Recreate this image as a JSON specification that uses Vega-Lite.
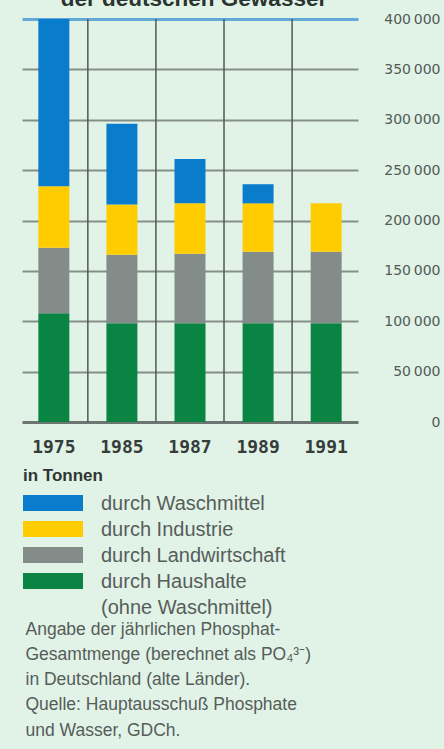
{
  "$schema": "https://vega.github.io/schema/vega-lite/v6.json",
  "width": 336,
  "height": 403,
  "autosize": {"type": "none"},
  "padding": {"left": 22, "top": 19, "right": 86, "bottom": 327},
  "background": "#e1f2e7",
  "title": {
    "text": "der deutschen Gewässer",
    "anchor": "middle",
    "baseline": "alphabetic",
    "offset": 4,
    "dx": 4,
    "dy": 20,
    "fontSize": 22.5,
    "font": "Liberation Sans",
    "fontWeight": "bold",
    "color": "#2b3430"
  },
  "datasets": {
    "stapel": [
      {"category": "durch Haushalte", "reihenfolge": 1},
      {"category": "durch Landwirtschaft", "reihenfolge": 2},
      {"category": "durch Industrie", "reihenfolge": 3},
      {"category": "durch Waschmittel", "reihenfolge": 4}
    ]
  },
  "data": {
    "values": [
      {"year": "1975", "category": "durch Haushalte", "value": 108000},
      {"year": "1975", "category": "durch Landwirtschaft", "value": 65000},
      {"year": "1975", "category": "durch Industrie", "value": 61000},
      {"year": "1975", "category": "durch Waschmittel", "value": 166000},
      {"year": "1985", "category": "durch Haushalte", "value": 98000},
      {"year": "1985", "category": "durch Landwirtschaft", "value": 68000},
      {"year": "1985", "category": "durch Industrie", "value": 50000},
      {"year": "1985", "category": "durch Waschmittel", "value": 80000},
      {"year": "1987", "category": "durch Haushalte", "value": 98000},
      {"year": "1987", "category": "durch Landwirtschaft", "value": 69000},
      {"year": "1987", "category": "durch Industrie", "value": 50000},
      {"year": "1987", "category": "durch Waschmittel", "value": 44000},
      {"year": "1989", "category": "durch Haushalte", "value": 98000},
      {"year": "1989", "category": "durch Landwirtschaft", "value": 71000},
      {"year": "1989", "category": "durch Industrie", "value": 48000},
      {"year": "1989", "category": "durch Waschmittel", "value": 19000},
      {"year": "1991", "category": "durch Haushalte", "value": 98000},
      {"year": "1991", "category": "durch Landwirtschaft", "value": 71000},
      {"year": "1991", "category": "durch Industrie", "value": 48000},
      {"year": "1991", "category": "durch Waschmittel", "value": 0}
    ]
  },
  "layer": [
    {
      "transform": [
        {"lookup": "category", "from": {"data": {"name": "stapel"}, "key": "category", "fields": ["reihenfolge"]}}
      ],
      "mark": {"type": "bar"},
      "encoding": {
        "x": {
          "field": "year",
          "type": "ordinal",
          "scale": {"paddingInner": 0.545, "paddingOuter": 0.24},
          "axis": {
            "title": [
              "Angabe der jährlichen Phosphat-",
              "Gesamtmenge (berechnet als PO₄³⁻)",
              "in Deutschland (alte Länder).",
              "Quelle: Hauptausschuß Phosphate",
              "und Wasser, GDCh."
            ],
            "labelAngle": 0,
            "domain": false,
            "ticks": false,
            "grid": false,
            "bandPosition": 0.5,
            "labelFont": "DejaVu Sans Mono",
            "labelFontWeight": "bold",
            "labelFontSize": 18,
            "labelColor": "#353d39",
            "labelBaseline": "middle",
            "labelPadding": 25,
            "titleAnchor": "start",
            "titleAlign": "left",
            "titleX": 3,
            "titleY": 212,
            "titleBaseline": "alphabetic",
            "titleFont": "Liberation Sans",
            "titleFontSize": 17.5,
            "titleFontWeight": "normal",
            "titleColor": "#555d59",
            "titleLineHeight": 25.3
          }
        },
        "y": {
          "field": "value",
          "type": "quantitative",
          "stack": "zero",
          "scale": {"domain": [0, 400000], "nice": false},
          "axis": {
            "orient": "right",
            "title": null,
            "values": [0, 50000, 100000, 150000, 200000, 250000, 300000, 350000, 400000],
            "domain": false,
            "ticks": false,
            "labelPadding": 82,
            "labelAlign": "right",
            "labelBaseline": "middle",
            "labelFont": "DejaVu Sans",
            "labelFontSize": 14,
            "labelColor": "#525b56",
            "labelExpr": "datum.value == 0 ? '0' : replace(format(datum.value, ','), ',', '\u2009')",
            "grid": true,
            "gridColor": {
              "condition": [
                {"test": "datum.value == 400000", "value": "#63a9d8"},
                {"test": "datum.value == 0", "value": "#6c7571"}
              ],
              "value": "#858f8a"
            },
            "gridWidth": {
              "condition": [
                {"test": "datum.value == 400000", "value": 3},
                {"test": "datum.value == 0", "value": 3}
              ],
              "value": 2
            }
          }
        },
        "order": {"field": "reihenfolge", "type": "quantitative", "sort": "ascending"},
        "color": {
          "field": "category",
          "type": "nominal",
          "scale": {
            "domain": ["durch Waschmittel", "durch Industrie", "durch Landwirtschaft", "durch Haushalte"],
            "range": ["#0a7ccc", "#ffcc00", "#838c88", "#0a8443"]
          },
          "legend": {
            "orient": "none",
            "legendX": 1,
            "legendY": 449,
            "padding": 0,
            "title": "in Tonnen",
            "titleFont": "Liberation Sans",
            "titleFontSize": 17,
            "titleFontWeight": "bold",
            "titleColor": "#2e3632",
            "titlePadding": 8,
            "symbolType": "M-3.75,-1H3.75V1H-3.75Z",
            "symbolSize": 256,
            "symbolStrokeWidth": 0,
            "symbolOpacity": 1,
            "symbolOffset": 20,
            "labelOffset": 38,
            "labelFont": "Liberation Sans",
            "labelFontSize": 20,
            "labelColor": "#565e5a",
            "labelBaseline": "alphabetic",
            "labelLimit": 0,
            "labelExpr": "datum.label == 'durch Haushalte' ? ['durch Haushalte', '(ohne Waschmittel)'] : datum.label",
            "rowPadding": 5,
            "encode": {
              "labels": {"update": {"dy": {"value": 7}, "lineHeight": {"value": 26}}}
            }
          }
        }
      }
    },
    {
      "transform": [{"filter": "datum.category == 'durch Waschmittel' && datum.year != '1975'"}],
      "mark": {"type": "rule", "color": "#4f5a55", "strokeWidth": 1.5},
      "encoding": {
        "x": {"field": "year", "type": "ordinal", "bandPosition": -0.6}
      }
    }
  ],
  "config": {"view": {"stroke": null}}
}
